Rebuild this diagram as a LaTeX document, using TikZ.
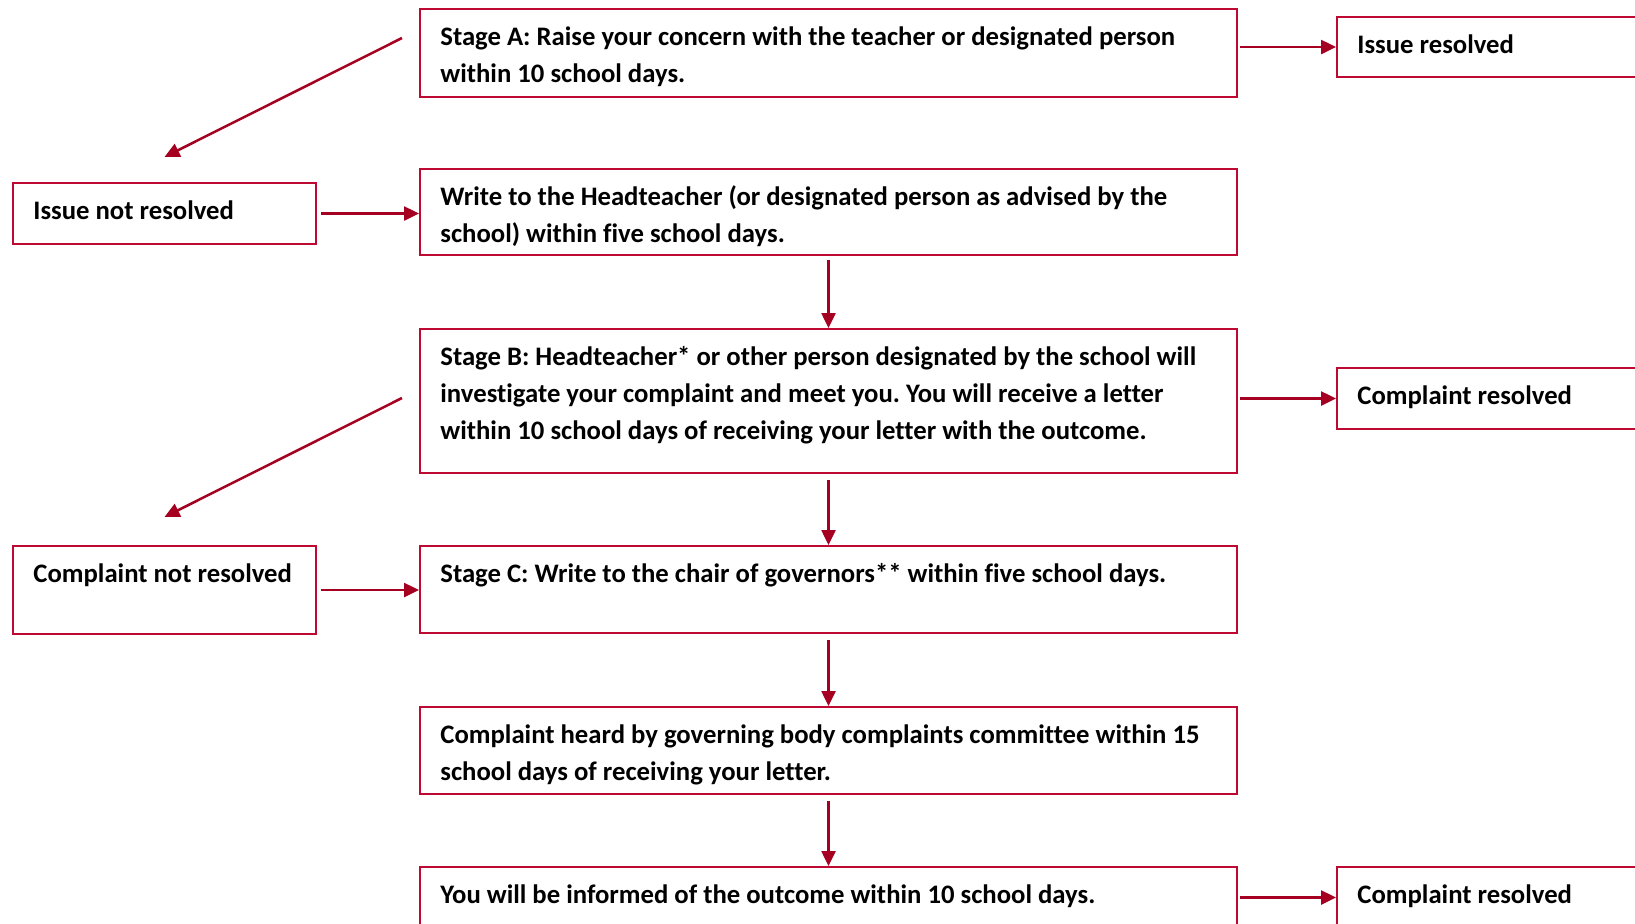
\documentclass[tikz,border=0pt]{standalone}
\usepackage{fontspec}
\setmainfont{Carlito}[Ligatures=NoCommon]
\usetikzlibrary{arrows.meta,calc,positioning}
\definecolor{boxred}{RGB}{190,10,50}
\definecolor{arrred}{RGB}{165,0,33}
\newcommand{\boxtext}[1]{\parbox[t]{400pt}{\raggedright #1}}
\frenchspacing

\begin{document}
\begin{tikzpicture}[x=0.5pt,y=-0.5pt,
	box/.style={draw=boxred,line width=1pt,anchor=north west,inner sep=0pt,minimum width=408.5pt},
	side/.style={box,minimum width=151.5pt},
	txt/.style={anchor=base west,inner sep=0pt,font=\fontsize{13.35}{18.6}\selectfont\bfseries},
	arr/.style={draw=arrred,line width=1.25pt,-{Triangle[length=7.5pt,width=7pt]}}]
	\clip (0,0) rectangle (1635,923);
	% main column
	\node[box,minimum height=44pt] (stA) at (419,8) {};
	\node[box,minimum height=43pt] (write) at (419,168) {};
	\node[box,minimum height=72pt] (stB) at (419,328) {};
	\node[box,minimum height=43.5pt] (stC) at (419,545) {};
	\node[box,minimum height=43.5pt] (heard) at (419,706) {};
	\node[box,minimum height=43.5pt] (outcome) at (419,866) {};
	% side boxes
	\node[side,minimum height=30.5pt] (notres) at (12,182) {};
	\node[side,minimum height=44pt] (cnotres) at (12,545) {};
	\node[side,minimum height=30pt] (issres) at (1336,16) {};
	\node[side,minimum height=30.5pt] (cres1) at (1336,367) {};
	\node[side,minimum height=30.5pt] (cres2) at (1336,866) {};
	% texts
	\node[txt] at ($(stA.north west)+(21,37)$) {\boxtext{Stage A: Raise your concern with the teacher or designated person\\within 10 school days.}};
	\node[txt] at ($(write.north west)+(21,37)$) {\boxtext{Write to the Headteacher (or designated person as advised by the\\school) within five school days.}};
	\node[txt] at ($(stB.north west)+(21,37)$) {\boxtext{Stage B: Headteacher* or other person designated by the school will\\investigate your complaint and meet you. You will receive a letter\\within 10 school days of receiving your letter with the outcome.}};
	\node[txt] at ($(stC.north west)+(21,37)$) {\boxtext{Stage C: Write to the chair of governors** within five school days.}};
	\node[txt] at ($(heard.north west)+(21,37)$) {\boxtext{Complaint heard by governing body complaints committee within 15\\school days of receiving your letter.}};
	\node[txt] at ($(outcome.north west)+(21,37)$) {\boxtext{You will be informed of the outcome within 10 school days.}};
	\node[txt] at ($(notres.north west)+(21,37)$) {Issue not resolved};
	\node[txt] at ($(cnotres.north west)+(21,37)$) {Complaint not resolved};
	\node[txt] at ($(issres.north west)+(21,37)$) {Issue resolved};
	\node[txt] at ($(cres1.north west)+(21,37)$) {Complaint resolved};
	\node[txt] at ($(cres2.north west)+(21,37)$) {Complaint resolved};
	% connectors
	\draw[arr] ($(stA.north west)+(-17,30)$) -- ($(notres.north)+(0,-25)$);
	\draw[arr] ($(stB.north west)+(-17,70)$) -- ($(cnotres.north)+(0,-28)$);
	\draw[arr] ([xshift=1pt]stA.east |- issres.west) -- (issres.west);
	\draw[arr] ([xshift=1pt]stB.east |- cres1.west) -- (cres1.west);
	\draw[arr] ([xshift=1pt]outcome.east |- cres2.west) -- (cres2.west);
	\draw[arr] ([xshift=2pt]notres.east) -- (write.west |- notres.east);
	\draw[arr] ([xshift=2pt]cnotres.east) -- (stC.west |- cnotres.east);
	\draw[arr] ([yshift=-2pt]write.south) -- (stB.north);
	\draw[arr] ([yshift=-3pt]stB.south) -- (stC.north);
	\draw[arr] ([yshift=-3pt]stC.south) -- (heard.north);
	\draw[arr] ([yshift=-3pt]heard.south) -- (outcome.north);
\end{tikzpicture}
\end{document}
